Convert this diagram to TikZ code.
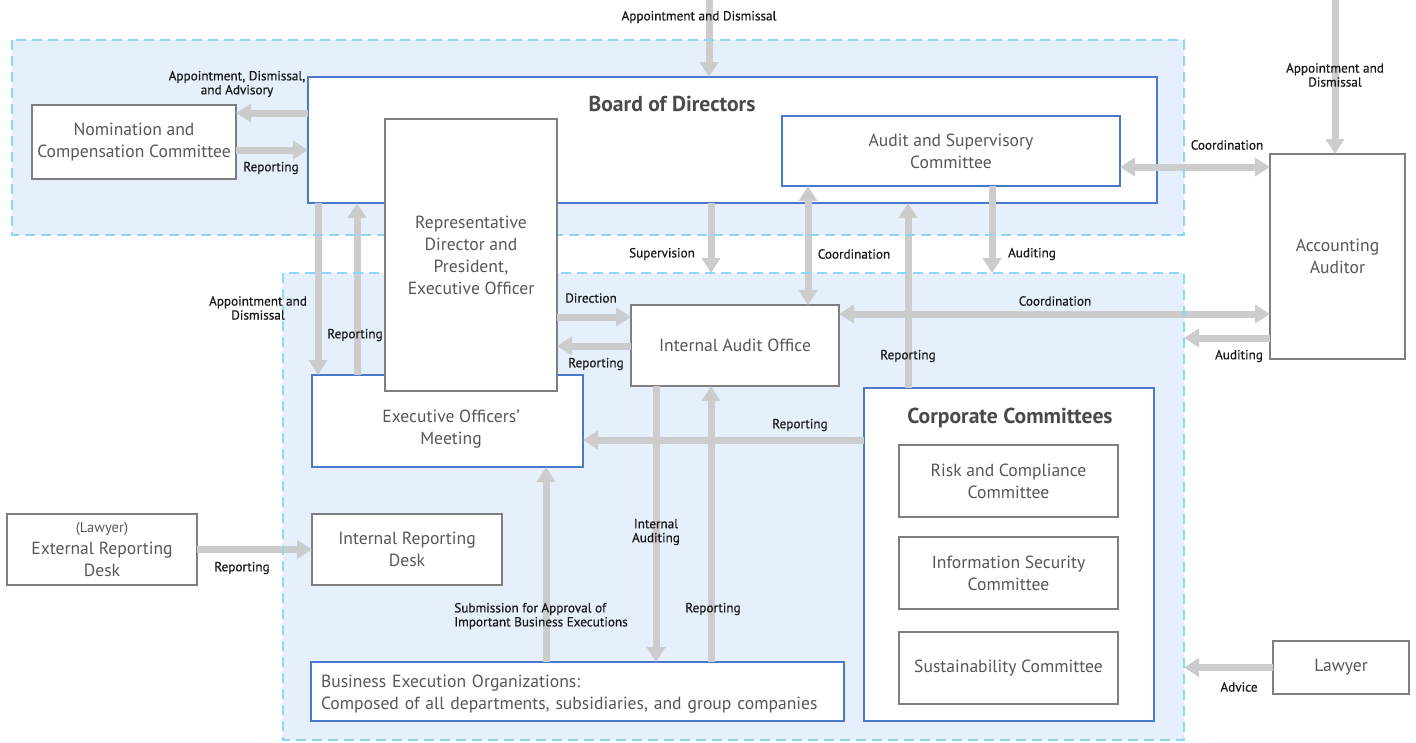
\documentclass[tikz,border=0pt]{standalone}
\usepackage{fontspec}
\setmainfont{PT Sans}
\newfontfamily\lblfont{PT Sans}[FakeBold=0.6]
\usetikzlibrary{arrows.meta}

\definecolor{regionblue}{HTML}{E6F0FC}
\definecolor{regionedge}{HTML}{8CD6F7}
\definecolor{boxblue}{HTML}{4A78CC}
\definecolor{boxgray}{HTML}{7F7F7F}
\definecolor{flowgray}{HTML}{CCCCCC}
\definecolor{textgray}{HTML}{575757}

\tikzset{
  region/.style={fill=regionblue, inner sep=0pt, outer sep=0pt},
  regionline/.style={draw=regionedge, line width=1.5pt, dash pattern=on 10pt off 6pt},
  graybox/.style={draw=boxgray, line width=2pt, fill=white, inner sep=0pt, outer sep=0pt,
    font=\fontsize{17.6}{22}\selectfont, text=textgray, align=center},
  bluebox/.style={graybox, draw=boxblue},
  boxtext/.style={font=\fontsize{17.6}{22}\selectfont, text=textgray, align=center, inner sep=0pt},
  title/.style={font=\fontsize{21.6}{24}\selectfont\bfseries, text=textgray!85!black, inner sep=0pt},
  flow/.style={draw=flowgray, line width=7pt, -{Triangle[width=18pt,length=15pt]}},
  twoflow/.style={flow, {Triangle[width=18pt,length=15pt]}-{Triangle[width=18pt,length=15pt]}},
  lbl/.style={font=\lblfont\fontsize{13.2}{14}\selectfont, text=black!90, align=center, inner sep=0pt},
}

\begin{document}
\begin{tikzpicture}[x=1pt, y=-1pt]
  \useasboundingbox (0,0) rectangle (1416,742);

  % Background regions
  \node[region, minimum width=1172pt, minimum height=195pt] (regA) at (598,137.5) {};
  \node[region, minimum width=901pt, minimum height=467pt] (regB) at (733.5,506.5) {};

  % Arrow lanes
  \coordinate (laneTop) at (709,0);
  \coordinate (laneTopR) at (1335,0);
  \coordinate (v1) at (318,0);
  \coordinate (v2) at (357,0);
  \coordinate (v3) at (546,0);
  \coordinate (v4) at (656,0);
  \coordinate (v5) at (711,0);
  \coordinate (v6) at (808,0);
  \coordinate (v7) at (908,0);
  \coordinate (v8) at (992,0);
  \coordinate (h1) at (0,113);
  \coordinate (h2) at (0,150);
  \coordinate (h3) at (0,167);
  \coordinate (h4) at (0,317);
  \coordinate (h5) at (0,346);
  \coordinate (h6) at (0,314);
  \coordinate (h7) at (0,338);
  \coordinate (h8) at (0,440);

  % Board side
  \node[bluebox, minimum width=849pt, minimum height=126pt] (board) at (732.5,140) {};
  \node[title] (boardtitle) at (672,104) {Board of Directors};
  \node[graybox, minimum width=204pt, minimum height=74pt] (nom) at (134,142) {Nomination and\\Compensation Committee};
  \node[bluebox, minimum width=338pt, minimum height=70pt] (audsup) at (951,151) {Audit and Supervisory\\Committee};
  \node[graybox, minimum width=135pt, minimum height=205pt] (accaud) at (1337.5,256.5) {Accounting\\Auditor};

  % Execution side
  \node[bluebox, minimum width=271pt, minimum height=92pt] (execmtg) at (447.5,421) {};
  \node[boxtext] (execmtgtext) at (451,429) {Executive Officers’\\Meeting};
  \node[graybox, minimum width=208pt, minimum height=81pt] (iao) at (735,345.5) {Internal Audit Office};
  \node[bluebox, minimum width=290pt, minimum height=333pt] (corpcom) at (1009,554.5) {};
  \node[title] (corptitle) at (1010,418) {Corporate Committees};
  \node[graybox, minimum width=219pt, minimum height=72pt] (risk) at (1008.5,481) {Risk and Compliance\\Committee};
  \node[graybox, minimum width=219pt, minimum height=72pt] (infosec) at (1008.5,573) {Information Security\\Committee};
  \node[graybox, minimum width=219pt, minimum height=72pt] (sustain) at (1008.5,668) {Sustainability Committee};
  \node[graybox, minimum width=136pt, minimum height=53pt] (lawyer) at (1341,667.5) {Lawyer};
  \node[graybox, minimum width=190pt, minimum height=71pt] (extdesk) at (102,549.5) {{\fontsize{14.5}{16}\selectfont(Lawyer)}\\External Reporting\\Desk};
  \node[graybox, minimum width=190pt, minimum height=71pt] (intdesk) at (407,549.5) {Internal Reporting\\Desk};
  \node[bluebox, minimum width=533pt, minimum height=59pt, text width=513pt, align=left] (bizexec) at (577.5,691.5) {\rule{0pt}{17pt}Business Execution Organizations:\\Composed of all departments, subsidiaries, and group companies};

  % Arrows
  \draw[flow] (laneTop) -- (laneTop |- board.north);
  \draw[flow] (laneTopR) -- (laneTopR |- accaud.north);
  \draw[flow] (board.west |- h1) -- (nom.east |- h1);
  \draw[flow] (nom.east |- h2) -- (board.west |- h2);
  \draw[twoflow] (audsup.east |- h3) -- (accaud.west |- h3);
  \draw[flow] (board.south -| v1) -- (execmtg.north -| v1);
  \draw[flow] (execmtg.north -| v2) -- (board.south -| v2);
  \draw[flow] (board.south -| v5) -- (regB.north -| v5);
  \draw[twoflow] (audsup.south -| v6) -- (iao.north -| v6);
  \draw[flow] (audsup.south -| v8) -- (regB.north -| v8);
  \draw[flow] (corpcom.north -| v7) -- (board.south -| v7);
  \draw[twoflow] (iao.east |- h6) -- (accaud.west |- h6);
  \draw[flow] (accaud.west |- h7) -- (regB.east |- h7);
  \draw[flow] (corpcom.west |- h8) -- (execmtg.east |- h8);
  \draw[flow] (bizexec.north -| v3) -- (execmtg.south -| v3);
  \draw[flow] (iao.south -| v4) -- (bizexec.north -| v4);
  \draw[flow] (bizexec.north -| v5) -- (iao.south -| v5);
  \draw[flow] (extdesk.east) -- (intdesk.west);
  \draw[flow] (lawyer.west) -- (lawyer.west -| regB.east);

  % Dashed region edges, above the arrows
  \draw[regionline] (regA.north west) rectangle (regA.south east);
  \draw[regionline] (regB.north west) rectangle (regB.south east);

  % Representative director box over the dashed edge
  \node[graybox, minimum width=172pt, minimum height=272pt] (repdir) at (471,255) {Representative\\Director and\\President,\\Executive Officer};
  \draw[flow] (repdir.east |- h4) -- (iao.west |- h4);
  \draw[flow] (iao.west |- h5) -- (repdir.east |- h5);

  % Arrow labels
  \node[lbl] (lblTop) at (699,17) {Appointment and Dismissal};
  \node[lbl] (lblTopR) at (1335,75) {Appointment and\\Dismissal};
  \node[lbl] (lblNomIn) at (237,84) {Appointment, Dismissal,\\and Advisory};
  \node[lbl] (lblNomOut) at (271,168) {Reporting};
  \node[lbl] (lblExecIn) at (258,308) {Appointment and\\Dismissal};
  \node[lbl] (lblExecOut) at (355,335) {Reporting};
  \node[lbl] (lblSuper) at (662,254) {Supervision};
  \node[lbl] (lblCoordA) at (854,254) {Coordination};
  \node[lbl] (lblAuditA) at (1032,254) {Auditing};
  \node[lbl] (lblCoordB) at (1227,145) {Coordination};
  \node[lbl] (lblCoordC) at (1055,301) {Coordination};
  \node[lbl] (lblAuditB) at (1239,356) {Auditing};
  \node[lbl] (lblDirect) at (591,298) {Direction};
  \node[lbl] (lblIaoOut) at (596,364) {Reporting};
  \node[lbl] (lblCorpUp) at (908,356) {Reporting};
  \node[lbl] (lblCorpLeft) at (800,425) {Reporting};
  \node[lbl, align=left] (lblSubmit) at (541,616) {Submission for Approval of\\Important Business Executions};
  \node[lbl] (lblIntAud) at (656,532) {Internal\\Auditing};
  \node[lbl] (lblBizUp) at (713,609) {Reporting};
  \node[lbl] (lblDesk) at (242,568) {Reporting};
  \node[lbl] (lblAdvice) at (1239,687) {Advice};
\end{tikzpicture}
\end{document}
